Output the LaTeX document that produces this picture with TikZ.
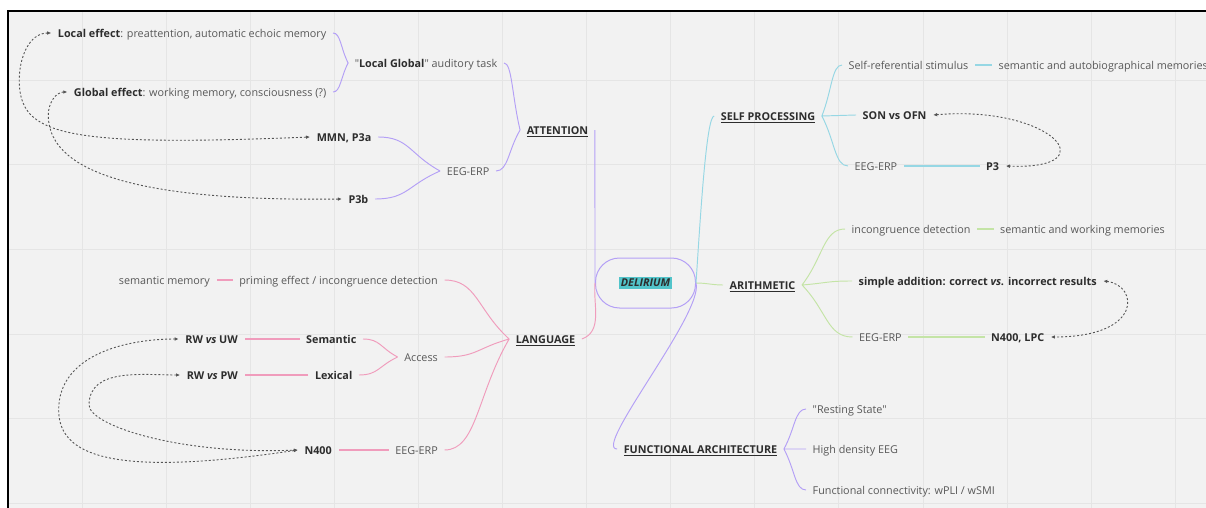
\documentclass[tikz,border=0pt]{standalone}
\usepackage{fontspec}
\setmainfont{Open Sans}
\usetikzlibrary{calc}
\usetikzlibrary{arrows.meta}
\definecolor{paper}{RGB}{242,242,242}
\definecolor{gridline}{RGB}{229,229,229}
\definecolor{txtgray}{RGB}{88,88,88}
\definecolor{txtdark}{RGB}{45,45,45}
\definecolor{attcol}{RGB}{180,160,246}
\definecolor{selfcol}{RGB}{150,215,228}
\definecolor{arcol}{RGB}{196,228,166}
\definecolor{langcol}{RGB}{240,156,188}
\definecolor{hilite}{RGB}{82,196,202}
\definecolor{depcol}{RGB}{85,85,85}
\setlength{\fboxsep}{2pt}
\newcommand{\heading}[1]{\underline{\textbf{#1}}}
\newcommand{\bkey}[1]{\textcolor{txtdark}{\textbf{#1}}}
\tikzset{
    leaf/.style = {
        inner xsep=6.5pt,
        inner ysep=2pt,
        text height=10pt,
        text depth=0.5pt,
        text=txtgray,
        font=\fontsize{10.8}{12}\selectfont,
    },
    topic/.style = {
        leaf,
        text=txtdark,
    },
    branch/.style = {
        to path={let \p1=(\tikztostart), \p2=(\tikztotarget) in
            .. controls ({(\x1+\x2)/2},{(\y1+\y2)/2}) and ({(\x1+\x2)/2},\y2) .. (\tikztotarget)}
    },
    attlink/.style = {draw=attcol, line width=0.95pt},
    selflink/.style = {draw=selfcol, line width=0.95pt},
    arlink/.style = {draw=arcol, line width=0.95pt},
    langlink/.style = {draw=langcol, line width=0.95pt},
    straight/.style = {line width=1.1pt},
    dep/.style = {
        depcol,
        line width=0.9pt,
        dash pattern=on 2pt off 2pt,
        {Latex[length=4pt,width=3.6pt]}-{Latex[length=4pt,width=3.6pt]},
    },
}

\begin{document}
\begin{tikzpicture}[x=1pt, y=1pt]
  % Board
  \useasboundingbox (0,0) rectangle (1206,-508);
  \fill[white] (0,0) rectangle (1206,-508);
  \fill[paper] (8,-11) rectangle (1206,-508);
  \foreach \gx in {0,...,13}
    \draw[gridline, line width=0.9pt] ({82+84.1*\gx},-11) -- ++(0,-497);
  \foreach \gy in {0,...,5}
    \draw[gridline, line width=0.9pt] (8,{-80-84.7*\gy}) -- (1206,{-80-84.7*\gy});
  \draw[black, line width=1.4pt] (1206,-11) -- (8,-11) -- (8,-508);

  % Centre and main topics
  \node[draw=attcol, line width=1pt, rounded corners=24pt, minimum width=100pt,
        minimum height=50pt, font=\fontsize{10.8}{12}\selectfont] (del) at (645.5,-283)
        {\colorbox{hilite}{\textcolor{txtdark}{\textbf{\textit{DELIRIUM}}}}};
  \node[topic] (att) at (557.5,-130) {\heading{ATTENTION}};
  \node[topic] (sp) at (768,-116) {\heading{SELF PROCESSING}};
  \node[topic] (ar) at (762.5,-285) {\heading{ARITHMETIC}};
  \node[topic] (lang) at (545.5,-339) {\heading{LANGUAGE}};
  \node[topic] (fa) at (700.5,-449) {\heading{FUNCTIONAL ARCHITECTURE}};

  % Attention
  \node[leaf, anchor=east] (lg) at (504,-63) {\textquotedbl\bkey{Local Global}\textquotedbl{} auditory task};
  \node[leaf, anchor=east] (le) at (333,-33) {\bkey{Local effect}: preattention, automatic echoic memory};
  \node[leaf, anchor=east] (ge) at (333,-92) {\bkey{Global effect}: working memory, consciousness (?)};
  \node[leaf, anchor=east] (atteeg) at (496,-171) {EEG-ERP};
  \node[leaf, anchor=east] (mmn) at (378,-137) {\bkey{MMN, P3a}};
  \node[leaf, anchor=east] (p3b) at (375,-199) {\bkey{P3b}};

  % Self processing
  \node[leaf, anchor=west] (selfref) at (842,-65) {Self-referential stimulus};
  \node[leaf, anchor=west] (autobio) at (992,-65) {semantic and autobiographical memories};
  \node[leaf, anchor=west] (son) at (856,-115) {\bkey{SON vs OFN}};
  \node[leaf, anchor=west] (speeg) at (848,-166) {EEG-ERP};
  \node[leaf, anchor=west] (p3) at (979.5,-166) {\bkey{P3}};

  % Arithmetic
  \node[leaf, anchor=west] (incong) at (845,-229) {incongruence detection};
  \node[leaf, anchor=west] (semwork) at (993.5,-229) {semantic and working memories};
  \node[leaf, anchor=west] (simple) at (852,-281) {\bkey{simple addition: correct \textit{vs.} incorrect results}};
  \node[leaf, anchor=west] (areeg) at (852.5,-337) {EEG-ERP};
  \node[leaf, anchor=west] (n400lpc) at (984.5,-337) {\bkey{N400, LPC}};

  % Language
  \node[leaf, anchor=east] (priming) at (444.5,-280) {priming effect / incongruence detection};
  \node[leaf, anchor=east] (semmem) at (216.5,-280) {semantic memory};
  \node[leaf, anchor=east] (access) at (444.5,-357) {Access};
  \node[leaf, anchor=east] (semantic) at (363,-339) {\bkey{Semantic}};
  \node[leaf, anchor=east] (lexical) at (359,-375) {\bkey{Lexical}};
  \node[leaf, anchor=east] (rwuw) at (244.5,-339) {\bkey{RW \textit{vs} UW}};
  \node[leaf, anchor=east] (rwpw) at (244.5,-375) {\bkey{RW \textit{vs} PW}};
  \node[leaf, anchor=east] (langeeg) at (444.5,-450) {EEG-ERP};
  \node[leaf, anchor=east] (n400) at (338.5,-450) {\bkey{N400}};

  % Functional architecture
  \node[leaf, anchor=west] (rest) at (806,-409) {\textquotedbl Resting State\textquotedbl};
  \node[leaf, anchor=west] (hd) at (806,-449) {High density EEG};
  \node[leaf, anchor=west] (fc) at (806,-490) {Functional connectivity: wPLI / wSMI};

  % Branches from the centre
  \draw[attlink] (del.west) to[out=90, in=-90] (att.east);
  \draw[langlink] (del.west) to[out=-95, in=20] (lang.east);
  \draw[selflink] (del.east) .. controls +(4,60) and +(-8,0) .. (sp.west);
  \draw[arlink] (del.east) to[out=0, in=180] (ar.west);
  \draw[attlink] (del.east) .. controls +(8,-30) and +(-25,0) .. (fa.west);

  % Sub-branches
  \draw[attlink] (att.west) to[branch] (lg.east) (att.west) to[branch] (atteeg.east);
  \draw[attlink] (lg.west) to[branch] (le.east) (lg.west) to[branch] (ge.east);
  \draw[attlink] (atteeg.west) to[branch] (mmn.east) (atteeg.west) to[branch] (p3b.east);

  \draw[selflink] (sp.east) to[branch] (selfref.west) (sp.east) to[branch] (son.west)
    (sp.east) to[branch] (speeg.west);
  \draw[selflink, straight] (selfref.east) -- (autobio.west) (speeg.east) -- (p3.west);

  \draw[arlink] (ar.east) to[branch] (incong.west) (ar.east) to[branch] (simple.west)
    (ar.east) to[branch] (areeg.west);
  \draw[arlink, straight] (incong.east) -- (semwork.west) (areeg.east) -- (n400lpc.west);

  \draw[langlink] (lang.west) to[branch] (priming.east) (lang.west) to[branch] (access.east)
    (lang.west) to[branch] (langeeg.east);
  \draw[langlink, straight] (priming.west) -- (semmem.east) (langeeg.west) -- (n400.east);
  \draw[langlink] (access.west) to[branch] (semantic.east) (access.west) to[branch] (lexical.east);
  \draw[langlink, straight] (semantic.west) -- (rwuw.east) (lexical.west) -- (rwpw.east);

  \draw[attlink] (fa.east) to[branch] (rest.west) (fa.east) to[branch] (hd.west)
    (fa.east) to[branch] (fc.west);

  % Dashed links between paradigms and markers
  \draw[dep] (le.west) to[out=180, in=90] ++(-32,-47) .. controls +(0,-55) and +(-249,-10) .. (mmn.west);
  \draw[dep] (ge.west) to[out=180, in=90] ++(-19,-23) .. controls +(0,-45) and +(-240,-3) .. (p3b.west);
  \draw[dep] (rwuw.west) to[out=180, in=90] ++(-120,-71) .. controls +(0,-45) and +(-188,-28) .. (n400.west);
  \draw[dep] (rwpw.west) to[out=180, in=90] ++(-91,-30) .. controls +(0,-20) and +(-120,-5) .. (n400.west);
  \draw[dep] (son.east) .. controls +(118,10) and +(103,-4) .. (p3.east);
  \draw[dep] (simple.east) .. controls +(35,-4) and +(93,0) .. (n400lpc.east);
\end{tikzpicture}
\end{document}
